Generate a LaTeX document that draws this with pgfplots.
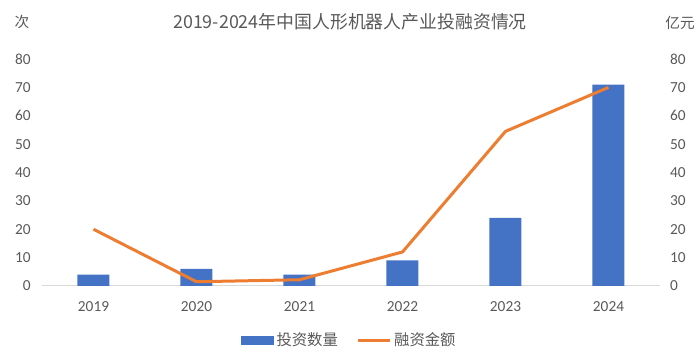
\documentclass[border=0pt]{standalone}
\usepackage{pgfplots}
\pgfplotsset{compat=1.18}
\usepackage{fontspec}
\setmainfont{Carlito}
\newfontfamily\cjk{Noto Sans CJK SC}
\definecolor{barblue}{HTML}{4472C4}
\definecolor{lineorange}{HTML}{ED7D31}
\definecolor{textgray}{HTML}{595959}
\definecolor{axisgray}{HTML}{D9D9D9}
\pgfplotsset{
  common/.style={
    scale only axis, width=463.5pt, height=170.25pt,
    xmin=-0.5, xmax=5.5, ymin=0, ymax=80,
    ytick={0,10,...,80},
    major tick length=0pt,
    tick style={draw=none},
    ticklabel style={font=\fontsize{11.5}{13}\selectfont, text=textgray},
    /pgf/number format/assume math mode=true,
  }
}
\begin{document}
\begin{tikzpicture}
\path[use as bounding box] (-31.5pt,-58.5pt) rectangle (493.5pt,214.5pt);
\begin{axis}[
  common,
  axis x line*=bottom, axis y line*=left,
  y axis line style={draw=none},
  x axis line style={draw=axisgray, line width=0.75pt, -},
  xtick={0,...,5}, xticklabels={2019,2020,2021,2022,2023,2024},
  xticklabel style={yshift=-8pt},
  yticklabel style={xshift=-5pt},
]
\addplot[ybar, bar width=24pt, fill=barblue, draw=none] coordinates {
  (0,4) (1,6) (2,4) (3,9) (4,24) (5,71)
};
\end{axis}
\begin{axis}[
  common,
  axis x line=none, axis y line*=right,
  y axis line style={draw=none},
  xtick=\empty,
  yticklabel style={xshift=4pt},
  legend style={at={(0.498,-0.24)}, anchor=center, draw=none, fill=none,
    font=\cjk\fontsize{11.5}{13}\selectfont, text=textgray,
    legend columns=2, /tikz/every even column/.append style={column sep=12pt}},
]
\addlegendimage{legend image code/.code={\fill[barblue] (0pt,-3pt) rectangle (24pt,3pt);}}
\addlegendentry{投资数量}
\addplot[lineorange, line width=2.25pt, line join=round,
  legend image code/.code={\draw[lineorange, line width=2.25pt] (0pt,0pt) -- (24pt,0pt);}]
  coordinates {(0,20) (1,1.5) (2,2.2) (3,12) (4,54.5) (5,70)};
\addlegendentry{融资金额}
\end{axis}
\node[text=textgray, font=\cjk\fontsize{13.4}{16}\selectfont] at (231pt,198pt) {2019-2024年中国人形机器人产业投融资情况};
\node[text=textgray, font=\cjk\fontsize{11}{13}\selectfont] at (-15pt,198pt) {次};
\node[text=textgray, font=\cjk\fontsize{11}{13}\selectfont] at (478.5pt,197pt) {亿元};
\end{tikzpicture}
\end{document}
